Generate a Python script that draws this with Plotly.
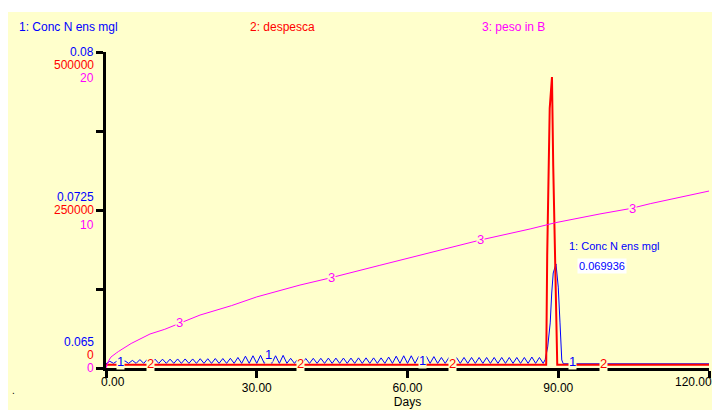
import numpy as np
import plotly.graph_objects as go

# ---- data ----
BG = "#FFFFCC"
BLUE = "#0000FF"
RED = "#FF0000"
MAGENTA = "#FF00FF"

# 1: Conc N ens mgl  (left scale 0.065 .. 0.08)
conc_days = list(np.arange(0, 87.01, 0.75)) + [87.4, 87.9, 88.4, 88.7, 89.0, 89.55, 90.0, 90.35, 90.7, 91.0, 120.0]
conc_vals = [
    0.06520, 0.06532, 0.06522, 0.06534, 0.06522, 0.06534, 0.06522, 0.06536, 0.06522, 0.06540,
    0.06522, 0.06542, 0.06522, 0.06542, 0.06522, 0.06542, 0.06522, 0.06542, 0.06522, 0.06543,
    0.06522, 0.06543, 0.06522, 0.06543, 0.06522, 0.06544, 0.06522, 0.06544, 0.06522, 0.06545,
    0.06522, 0.06545, 0.06522, 0.06546, 0.06522, 0.06550, 0.06522, 0.06556, 0.06522, 0.06558,
    0.06522, 0.06560, 0.06522, 0.06556, 0.06522, 0.06558, 0.06522, 0.06560, 0.06522, 0.06546,
    0.06522, 0.06545, 0.06522, 0.06545, 0.06522, 0.06546, 0.06522, 0.06546, 0.06522, 0.06547,
    0.06522, 0.06547, 0.06522, 0.06547, 0.06522, 0.06547, 0.06522, 0.06548, 0.06522, 0.06548,
    0.06522, 0.06548, 0.06522, 0.06548, 0.06522, 0.06552, 0.06522, 0.06556, 0.06522, 0.06558,
    0.06522, 0.06558, 0.06522, 0.06556, 0.06522, 0.06556, 0.06522, 0.06554, 0.06522, 0.06550,
    0.06522, 0.06550, 0.06522, 0.06550, 0.06522, 0.06550, 0.06522, 0.06550, 0.06522, 0.06550,
    0.06522, 0.06550, 0.06522, 0.06550, 0.06522, 0.06550, 0.06522, 0.06550, 0.06522, 0.06550,
    0.06522, 0.06550, 0.06522, 0.06552, 0.06522, 0.06550, 0.06522,
    0.06540, 0.06600, 0.06714, 0.06856, 0.06951, 0.06994, 0.06884, 0.06714, 0.06538, 0.06520, 0.06520,
]

# 2: despesca  (left scale 0 .. 500000), narrow harvest spike
desp_days = [0, 87.6, 87.8, 88.3, 88.75, 89.0, 89.5, 89.8, 120]
desp_vals = [0, 0, 175000, 410000, 460000, 318000, 120000, 0, 0]

# 3: peso in B  (left scale 0 .. 20)
peso_days = [0, 0.5, 1, 2.5, 5, 8.75, 11.7, 14.7, 18.7, 25, 30, 38.6, 44.6, 54.5, 64.5, 74.5,
             84.4, 89.5, 98.3, 104.5, 108.3, 120]
peso_vals = [0, 0.45, 0.7, 1.05, 1.55, 2.15, 2.45, 2.85, 3.35, 3.95, 4.5, 5.25, 5.7, 6.5, 7.3, 8.1,
             8.8, 9.2, 9.75, 10.1, 10.4, 11.2]

# where the series numbers sit on the lines
label1_days = [2.9, 32.3, 62.9, 92.9]
label2_days = [8.9, 38.8, 68.9, 99.0]
label3_days = [14.7, 44.8, 74.6, 104.7]

x_ticks = [0, 30, 60, 90, 120]
x_tick_text = ["", "30.00", "60.00", "90.00", ""]
# left scale labels: (text, colour, paper y, pixel shift)
scale_labels = [
    ("0.08", BLUE, 1.0, 0), ("500000", RED, 1.0, -13), ("20", MAGENTA, 1.0, -26),
    ("0.0725", BLUE, 0.5, 13), ("250000", RED, 0.5, 0), ("10", MAGENTA, 0.5, -15),
    ("0.065", BLUE, 0.0, 26), ("0", RED, 0.0, 13), ("0", MAGENTA, 0.0, 0),
]

FONT = "Arial, Liberation Sans, sans-serif"

fig = go.Figure()
fig.add_trace(go.Scatter(x=conc_days, y=conc_vals, mode="lines", yaxis="y",
                         line=dict(color=BLUE, width=1), name="1: Conc N ens mgl"))
fig.add_trace(go.Scatter(x=desp_days, y=desp_vals, mode="lines", yaxis="y2",
                         line=dict(color=RED, width=2), name="2: despesca"))
fig.add_trace(go.Scatter(x=peso_days, y=peso_vals, mode="lines", yaxis="y3",
                         line=dict(color=MAGENTA, width=1), name="3: peso in B"))

annotations = []
# numbers on the lines, with a background patch that breaks the lines
for d in label1_days:
    annotations.append(dict(x=d, y=float(np.interp(d, conc_days, conc_vals)), xref="x", yref="y",
                            text="1", showarrow=False, yshift=2, bgcolor=BG, borderpad=0,
                            font=dict(color=BLUE, size=13, family=FONT)))
for d in label2_days:
    annotations.append(dict(x=d, y=float(np.interp(d, desp_days, desp_vals)), xref="x", yref="y2",
                            text="2", showarrow=False, yshift=1, bgcolor=BG, borderpad=0,
                            font=dict(color=RED, size=13, family=FONT)))
for d in label3_days:
    annotations.append(dict(x=d, y=float(np.interp(d, peso_days, peso_vals)), xref="x", yref="y3",
                            text="3", showarrow=False, bgcolor=BG, borderpad=0,
                            font=dict(color=MAGENTA, size=13, family=FONT)))

for txt, col, py, sh in scale_labels:
    annotations.append(dict(x=0, y=py, xref="paper", yref="paper", text=txt, showarrow=False,
                            xanchor="right", yanchor="middle", xshift=-10, yshift=sh,
                            font=dict(color=col, size=12, family=FONT)))

# end labels of the day axis are pushed inwards
annotations.append(dict(x=x_ticks[0], y=0, xref="x", yref="paper", text="0.00", showarrow=False,
                        xanchor="left", yanchor="middle", xshift=-7, yshift=-14,
                        font=dict(color="black", size=12, family=FONT)))
annotations.append(dict(x=x_ticks[-1], y=0, xref="x", yref="paper", text="120.00", showarrow=False,
                        xanchor="right", yanchor="middle", xshift=5, yshift=-14,
                        font=dict(color="black", size=12, family=FONT)))

# header legend
for txt, col, px in [("1: Conc N ens mgl", BLUE, -0.1476), ("2: despesca", RED, 0.2355),
                     ("3: peso in B", MAGENTA, 0.620)]:
    annotations.append(dict(x=px, y=1.079, xref="paper", yref="paper", text=txt, showarrow=False,
                            xanchor="left", yanchor="middle",
                            font=dict(color=col, size=12, family=FONT)))

# readout box
annotations.append(dict(x=0.7645, y=0.386, xref="paper", yref="paper", text="1: Conc N ens mgl",
                        showarrow=False, xanchor="left", yanchor="middle",
                        font=dict(color=BLUE, size=11, family=FONT)))
annotations.append(dict(x=0.781, y=0.323, xref="paper", yref="paper", text="0.069936",
                        showarrow=False, xanchor="left", yanchor="middle", bgcolor="white",
                        borderpad=1, font=dict(color=BLUE, size=11, family=FONT)))
annotations.append(dict(x=-0.159, y=-0.095, xref="paper", yref="paper", text=".",
                        showarrow=False, font=dict(color="black", size=10, family=FONT)))

# the page body adds an 8px white border, so the figure is 8px smaller
fig.update_layout(
    width=712, height=402, autosize=False,
    margin=dict(l=98, r=11, t=44, b=42),
    paper_bgcolor=BG, plot_bgcolor=BG,
    showlegend=False,
    font=dict(family=FONT, size=12, color="black"),
    xaxis=dict(range=[0, 120], tickvals=x_ticks, ticktext=x_tick_text, automargin=False,
               showgrid=False, zeroline=False, showline=True, linecolor="black", linewidth=3,
               ticks="outside", ticklen=7, tickwidth=3, tickcolor="black",
               title=dict(text="Days", font=dict(size=12), standoff=2),
               tickfont=dict(size=12, color="black")),
    yaxis=dict(range=[0.065, 0.08], tickvals=[0.065, 0.06875, 0.0725, 0.07625, 0.08],
               showticklabels=False, showgrid=False, zeroline=False, automargin=False,
               showline=True, linecolor="black", linewidth=3,
               ticks="outside", ticklen=7, tickwidth=3, tickcolor="black"),
    yaxis2=dict(range=[-5000, 500000], overlaying="y", visible=False),
    yaxis3=dict(range=[0, 20], overlaying="y", visible=False),
    annotations=annotations,
    shapes=[
        dict(type="rect", xref="paper", yref="paper", x0=-0.3, x1=1.1, y0=1 + 40 / 316, y1=1.4,
             fillcolor="white", line_width=0, layer="below"),
    ],
)

fig.write_html("out.html")
